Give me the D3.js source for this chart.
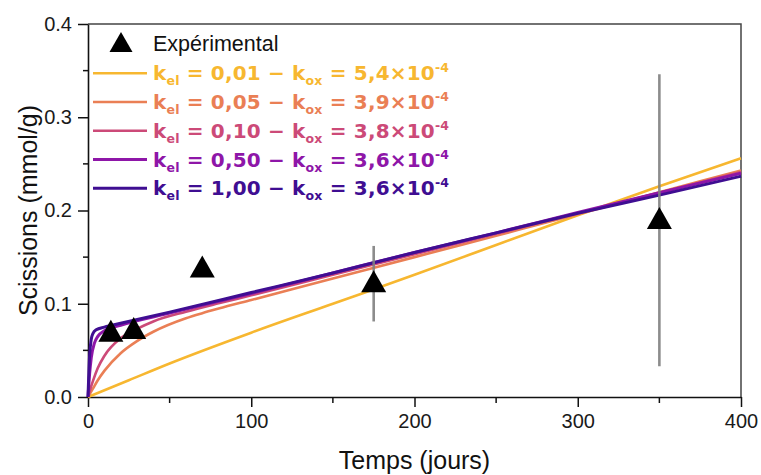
<!DOCTYPE html>
<html>
<head>
<meta charset="utf-8">
<script src="https://cdn.jsdelivr.net/npm/d3@7"></script>
<style>
  html, body { margin: 0; padding: 0; background: #fff; }
  svg { display: block; }
</style>
</head>
<body>
<svg id="chart" width="761" height="475"></svg>
<script>
// ---------- DATA ----------
const xTicks = [0, 100, 200, 300, 400];
const xMinorTicks = [50, 150, 250, 350];
const yTicks = [0.0, 0.1, 0.2, 0.3, 0.4];
const yMinorTicks = [0.05, 0.15, 0.25, 0.35];

// experimental points: time (days), scissions (mmol/g), error bar low/high
const expT    = [14, 28, 70, 175, 350];
const expY    = [0.071, 0.074, 0.140, 0.124, 0.192];
const expLow  = [null, null, null, 0.081, 0.033];
const expHigh = [null, null, null, 0.162, 0.346];

// model curves
const kelLabels = ["0,01", "0,05", "0,10", "0,50", "1,00"];
const koxLabels = ["5,4", "3,9", "3,8", "3,6", "3,6"];
const seriesColors = ["#f7b730", "#ea7f55", "#cc4a78", "#8e16a8", "#3f0e92"];

const curveT_001 = [0, 25, 50, 100, 150, 200, 250, 300, 350, 400];
const curveY_001 = [0, 0.018, 0.036, 0.069, 0.100, 0.131, 0.163, 0.195, 0.226, 0.256];

const curveT_005 = [0, 3, 6, 10, 20, 30, 40, 60, 70, 80, 100, 150, 200, 250, 300, 350, 400];
const curveY_005 = [0, 0.009, 0.018, 0.028, 0.047, 0.060, 0.070, 0.0845, 0.0899, 0.0948, 0.104, 0.127, 0.150, 0.173, 0.196, 0.2195, 0.243];

const curveT_010 = [0, 3, 6, 10, 20, 30, 40, 60, 80, 100, 150, 200, 250, 300, 350, 400];
const curveY_010 = [0, 0.017, 0.031, 0.044, 0.063, 0.073, 0.081, 0.0915, 0.1005, 0.109, 0.131, 0.153, 0.175, 0.197, 0.219, 0.2414];

const curveT_050 = [0, 1, 2, 4, 6, 10, 20, 50, 100, 150, 200, 250, 300, 350, 400];
const curveY_050 = [0, 0.025, 0.042, 0.058, 0.065, 0.071, 0.077, 0.090, 0.111, 0.133, 0.155, 0.176, 0.198, 0.219, 0.240];

const curveT_100 = [0, 1, 2, 3, 5, 10, 20, 50, 100, 150, 200, 250, 300, 350, 400];
const curveY_100 = [0, 0.045, 0.062, 0.068, 0.072, 0.075, 0.079, 0.091, 0.112, 0.133, 0.155, 0.176, 0.197, 0.2165, 0.2368];

const curvesT = [curveT_001, curveT_005, curveT_010, curveT_050, curveT_100];
const curvesY = [curveY_001, curveY_005, curveY_010, curveY_050, curveY_100];

const xTitle = "Temps (jours)";
const yTitle = "Scissions (mmol/g)";
const expLabel = "Expérimental";

// ---------- DRAW ----------
const svg = d3.select("#chart");
const x = d3.scaleLinear().domain([0, 400]).range([88, 741]);
const y = d3.scaleLinear().domain([0, 0.4]).range([397, 24]);

const tickFont = "'Liberation Sans', Arial, sans-serif";

// frame (top & right)
svg.append("path")
  .attr("d", `M${x(0)},${y(0.4)}H${x(400)}V${y(0)}`)
  .attr("fill", "none").attr("stroke", "#444").attr("stroke-width", 1.5);

// x axis
const gx = svg.append("g").attr("transform", `translate(0,${y(0)})`)
  .call(d3.axisBottom(x).tickValues(xTicks).tickSize(10).tickSizeOuter(0).tickPadding(4).tickFormat(d3.format("d")));
gx.append("g").selectAll("line").data(xMinorTicks).join("line")
  .attr("x1", d => x(d)).attr("x2", d => x(d)).attr("y1", 0).attr("y2", 6)
  .attr("stroke", "#111").attr("stroke-width", 1.5);

// y axis
const gy = svg.append("g").attr("transform", `translate(${x(0)},0)`)
  .call(d3.axisLeft(y).tickValues(yTicks).tickSize(10).tickSizeOuter(0).tickPadding(6).tickFormat(d3.format(".1f")));
gy.append("g").selectAll("line").data(yMinorTicks).join("line")
  .attr("y1", d => y(d)).attr("y2", d => y(d)).attr("x1", 0).attr("x2", -5)
  .attr("stroke", "#111").attr("stroke-width", 1.5);

[gx, gy].forEach(g => {
  g.select(".domain").attr("stroke", "#111").attr("stroke-width", 1.6);
  g.selectAll(".tick line").attr("stroke", "#111").attr("stroke-width", 1.5);
  g.selectAll(".tick text").attr("font-family", tickFont).attr("font-size", 20).attr("fill", "#1a1a1a");
});
gx.selectAll(".tick text").attr("dy", "0.85em");

// axis titles
svg.append("text").attr("x", x(200)).attr("y", 469)
  .attr("text-anchor", "middle").attr("font-family", tickFont).attr("font-size", 25).attr("fill", "#111")
  .text(xTitle);
svg.append("text").attr("transform", `translate(37,${(y(0) + y(0.4)) / 2}) rotate(-90)`)
  .attr("text-anchor", "middle").attr("font-family", tickFont).attr("font-size", 25).attr("fill", "#111")
  .text(yTitle);

// model curves
const line = d3.line().x(d => x(d[0])).y(d => y(d[1])).curve(d3.curveMonotoneX);
curvesT.forEach((ts, i) => {
  const pts = ts.map((t, j) => [t, curvesY[i][j]]);
  svg.append("path").datum(pts)
    .attr("d", line).attr("fill", "none")
    .attr("stroke", seriesColors[i]).attr("stroke-width", i >= 3 ? 3 : 2.6)
    .attr("stroke-linejoin", "round");
});

// error bars
const errIdx = expT.map((t, i) => i).filter(i => expLow[i] !== null);
svg.append("g").selectAll("line").data(errIdx).join("line")
  .attr("x1", i => x(expT[i])).attr("x2", i => x(expT[i]))
  .attr("y1", i => y(expLow[i])).attr("y2", i => y(expHigh[i]))
  .attr("stroke", "#7f7f7f").attr("stroke-width", 2.6).attr("stroke-opacity", 0.9);

// triangles
const tri = (cx, cy, w, h) => `M${cx},${cy - h / 2}L${cx + w / 2},${cy + h / 2}L${cx - w / 2},${cy + h / 2}Z`;
svg.append("g").selectAll("path").data(expT.map((t, i) => i)).join("path")
  .attr("d", i => tri(x(expT[i]), y(expY[i]), 25, 22))
  .attr("fill", "#000");

// legend
svg.append("path").attr("d", tri(121, 42, 23, 20)).attr("fill", "#000");
svg.append("text").attr("x", 153).attr("y", 51)
  .attr("font-family", tickFont).attr("font-size", 21.5).attr("fill", "#111").text(expLabel);

const legFont = "'DejaVu Sans', 'Open Sans', sans-serif";
kelLabels.forEach((kel, i) => {
  const ly = 73.3 + i * 28.75;
  svg.append("line").attr("x1", 93).attr("x2", 147).attr("y1", ly).attr("y2", ly)
    .attr("stroke", seriesColors[i]).attr("stroke-width", i >= 3 ? 3 : 2.6);
  const t = svg.append("text").attr("x", 153).attr("y", ly + 7)
    .attr("font-family", legFont).attr("font-weight", "bold").attr("font-size", 20)
    .attr("fill", seriesColors[i])
    .attr("textLength", 296).attr("lengthAdjust", "spacing");
  t.append("tspan").text("k");
  t.append("tspan").attr("font-size", 12.5).attr("dy", 5).text("el");
  t.append("tspan").attr("dy", -5).text(` = ${kel} − k`);
  t.append("tspan").attr("font-size", 12.5).attr("dy", 5).text("ox");
  t.append("tspan").attr("dy", -5).text(` = ${koxLabels[i]}×10`);
  t.append("tspan").attr("font-size", 12.5).attr("dy", -8).text("-4");
});
</script>
</body>
</html>
